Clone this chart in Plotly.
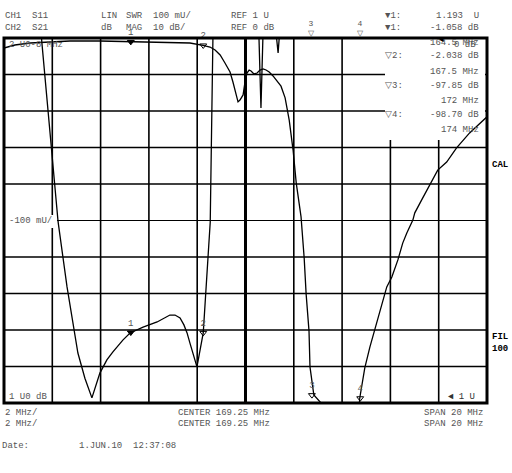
import numpy as np
import plotly.graph_objects as go

# CH1: S11 as SWR (units), CH2: S21 magnitude (dB); frequency in MHz
s11_freq = [159.25, 160.62, 160.82, 161.15, 161.49, 161.86, 162.07, 162.31, 162.60, 162.89,
            163.22, 163.51, 163.76, 164.18, 164.47, 165.01, 165.59, 165.92, 166.12, 166.33,
            166.54, 166.70, 166.83, 166.95, 167.08, 167.24, 167.50, 167.62, 167.79, 167.90,
            168.03, 169.68, 169.79, 169.89, 169.97, 170.06, 170.49, 170.60, 170.68, 170.80, 179.25]
s11_swr = [2.5, 2.15, 1.986, 1.742, 1.496, 1.318, 1.233, 1.137, 1.068, 1.014,
           1.082, 1.118, 1.140, 1.173, 1.192, 1.208, 1.222, 1.233, 1.241, 1.241,
           1.233, 1.214, 1.192, 1.164, 1.132, 1.099, 1.192, 1.318, 1.496, 1.995,
           2.3, 2.3, 2.0, 1.808, 2.0, 2.3, 2.03, 1.959, 2.03, 2.3, 2.3]

s21_freq = [159.25, 159.70, 160.33, 161.15, 161.98, 163.22, 164.47, 165.30, 166.12, 166.95,
            167.49, 167.78, 167.99, 168.20, 168.40, 168.61, 168.73, 168.86, 168.94, 169.02,
            169.15, 169.23, 169.31, 169.40, 169.48, 169.60, 169.73, 169.85, 169.98, 170.10,
            170.23, 170.39, 170.56, 170.72, 170.89, 171.06, 171.22, 171.35, 171.55, 171.68,
            171.76, 171.88, 171.92, 172.08, 173.73, 173.86, 173.98, 174.19, 174.40, 174.60,
            174.89, 175.10, 175.31, 175.56, 175.76, 175.93, 176.18, 176.26, 176.59, 176.96,
            177.21, 177.58, 177.99, 178.53, 179.07, 179.25]
s21_db = [-2.74, -1.92, -1.37, -1.10, -0.82, -0.82, -1.06, -1.10, -1.23, -1.37,
          -2.04, -2.47, -3.29, -4.66, -6.85, -9.32, -12.05, -15.6, -17.5, -17.0,
          -15.6, -12.05, -9.59, -8.77, -9.04, -9.86, -9.59, -8.77, -8.49, -8.77,
          -9.32, -10.4, -11.8, -13.2, -16.4, -22.5, -30.7, -39.7, -49.0, -60.3,
          -70.1, -80.3, -90.1, -97.8, -110.0, -110.0, -98.7, -90.4, -84.7, -80.0,
          -72.6, -68.2, -65.5, -60.8, -56.2, -53.4, -49.9, -47.9, -43.8, -39.5,
          -36.2, -34.0, -30.1, -26.0, -22.5, -21.6]

marker_freq = [164.5, 167.5, 172.0, 174.0]
marker_s21 = [-1.058, -2.038, -97.85, -98.70]
marker_s11_on = [1, 2]
marker_s11_off = [3, 4]
readout = [("\u25bc1:", "1.193  U"), ("\u25bc1:", "-1.058 dB"), ("", "164.5 MHz"),
           ("\u25bd2:", "-2.038 dB"), ("", "167.5 MHz"), ("\u25bd3:", "-97.85 dB"),
           ("", "172 MHz"), ("\u25bd4:", "-98.70 dB"), ("", "174 MHz")]

W, H = 512, 473
L, R, T, B = 4, 25, 38, 70
pw, ph = W - L - R, H - T - B
FONT = "Liberation Mono"
TXT = "#555555"

fig = go.Figure()
fig.add_trace(go.Scatter(x=s11_freq, y=s11_swr, mode="lines",
                         line=dict(color="black", width=1.3), yaxis="y"))
fig.add_trace(go.Scatter(x=s21_freq, y=s21_db, mode="lines",
                         line=dict(color="black", width=1.3), yaxis="y2"))

# markers on the traces
s11_mk = [float(np.interp(marker_freq[i - 1], s11_freq, s11_swr)) for i in marker_s11_on]
s11_mk[0] = 1.193
fig.add_trace(go.Scatter(x=[marker_freq[i - 1] for i in marker_s11_on], y=s11_mk,
                         mode="markers+text", text=[str(i) for i in marker_s11_on],
                         textposition="top center", cliponaxis=False,
                         textfont=dict(family=FONT, size=9, color=TXT),
                         marker=dict(symbol=["triangle-down", "triangle-down-open"], size=6,
                                     color="black", line=dict(width=1, color="black")),
                         yaxis="y"))
fig.add_trace(go.Scatter(x=marker_freq, y=marker_s21,
                         mode="markers+text", text=["1", "2", "3", "4"],
                         textposition="top center", cliponaxis=False,
                         textfont=dict(family=FONT, size=9, color=TXT),
                         marker=dict(symbol=["triangle-down"] + ["triangle-down-open"] * 3, size=6,
                                     color="black", line=dict(width=1, color="black")),
                         yaxis="y2"))


def px(x, y):
    # screen pixel -> plot-area paper coords
    return (x - L) / pw, (H - B - y) / ph


shapes = []
# grid, drawn as shapes so the readout box can sit over it
for i in range(1, 10):
    shapes.append(dict(type="line", xref="paper", yref="paper", x0=i / 10, x1=i / 10, y0=0, y1=1,
                       line=dict(color="black", width=3 if i == 5 else 1.6), layer="below"))
    shapes.append(dict(type="line", xref="paper", yref="paper", x0=0, x1=1, y0=i / 10, y1=i / 10,
                       line=dict(color="black", width=1 if i == 5 else 1.6), layer="below"))
# white readout box top right
bx0, by0 = px(385, 140)
bx1, by1 = px(485, 39)
shapes.append(dict(type="rect", xref="paper", yref="paper", x0=bx0, x1=bx1, y0=by0, y1=by1,
                   fillcolor="white", line=dict(width=0), layer="below"))
# white label box behind -100 mU/
lx0, ly0 = px(5, 228)
lx1, ly1 = px(57, 215)
shapes.append(dict(type="rect", xref="paper", yref="paper", x0=lx0, x1=lx1, y0=ly0, y1=ly1,
                   fillcolor="white", line=dict(width=0), layer="below"))
# frame
shapes.append(dict(type="rect", xref="paper", yref="paper", x0=0, x1=1, y0=0, y1=1,
                   line=dict(color="black", width=3)))

ann = []


def px_text(x, y, s, anchor="left", size=9, color=TXT, bold=False):
    xp, yp = px(x, y)
    ann.append(dict(x=xp, y=yp, xref="paper", yref="paper", text=("<b>%s</b>" % s) if bold else s,
                    showarrow=False, xanchor=anchor, yanchor="middle",
                    font=dict(family=FONT, size=size, color=color)))


# header
px_text(3, 16, "CH1  S11")
px_text(3, 28, "CH2  S21")
px_text(99, 16, "LIN")
px_text(124, 16, "SWR")
px_text(151, 16, "100 mU/")
px_text(99, 28, "dB")
px_text(124, 28, "MAG")
px_text(151, 28, "10 dB/")
px_text(229, 16, "REF 1 U")
px_text(229, 28, "REF 0 dB")

# marker readout
ry = [16, 28, 43, 56, 72, 86, 101, 115, 130]
for (lab, val), yy in zip(readout, ry):
    if lab:
        px_text(383, yy, lab)
    px_text(481, yy, val, anchor="right")
px_text(437, 40, "\u25c4", size=8, color="black")
px_text(478, 45, "0 dB", anchor="right")

# off-scale S11 markers above the grid
for i in marker_s11_off:
    ann.append(dict(x=marker_freq[i - 1], y=1, xref="x", yref="paper", text=str(i) + "<br>\u25bd",
                    showarrow=False, yanchor="bottom", yshift=-2,
                    font=dict(family=FONT, size=8, color=TXT)))

# labels inside the grid
px_text(7, 45, "2 U0-8 MHz")
px_text(7, 221, "-100 mU/")
px_text(7, 397, "1 U0 dB")
px_text(446, 397, "\u25c4 1 U", color="#333333")

# right side soft keys
px_text(490, 165, "CAL", size=9, color="black", bold=True)
px_text(490, 337, "FIL", size=9, color="black", bold=True)
px_text(490, 349, "100", size=9, color="black", bold=True)

# footer
px_text(3, 413, "2 MHz/")
px_text(3, 424, "2 MHz/")
px_text(176, 413, "CENTER 169.25 MHz")
px_text(176, 424, "CENTER 169.25 MHz")
px_text(485, 413, "SPAN 20 MHz", anchor="right")
px_text(485, 424, "SPAN 20 MHz", anchor="right")
px_text(0, 446, "Date:")
px_text(77, 446, "1.JUN.10  12:37:08")

fig.update_layout(
    width=W, height=H, margin=dict(l=L, r=R, t=T, b=B),
    paper_bgcolor="white", plot_bgcolor="white", showlegend=False,
    xaxis=dict(range=[159.25, 179.25], showgrid=False, zeroline=False,
               showticklabels=False, ticks=""),
    yaxis=dict(range=[1.0, 2.0], showgrid=False, zeroline=False,
               showticklabels=False, ticks=""),
    yaxis2=dict(range=[-100, 0], overlaying="y", showgrid=False, zeroline=False,
                showticklabels=False, ticks=""),
    shapes=shapes, annotations=ann,
)

fig.write_html("out.html", config={"displayModeBar": False},
               post_script="document.body.style.margin='0';")
